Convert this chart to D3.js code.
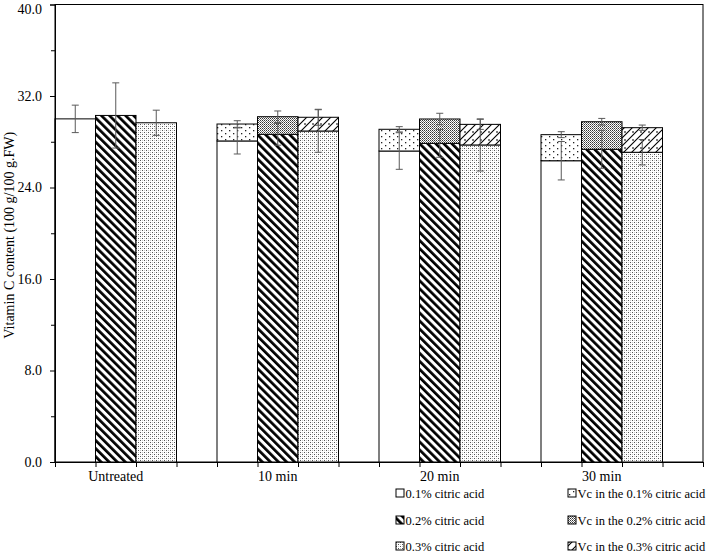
<!DOCTYPE html>
<html><head><meta charset="utf-8">
<script src="https://cdn.jsdelivr.net/npm/d3@7"></script>
<style>
body{margin:0;background:#fff}
svg{display:block}
text{font-family:"Liberation Serif","Times New Roman",serif;fill:#000}
</style>
</head><body>
<svg id="c" width="709" height="552"></svg>
<script>
// ---- data ----
const categories = ["Untreated", "10 min", "20 min", "30 min"];
const baseNames = ["0.1% citric acid", "0.2% citric acid", "0.3% citric acid"];
const vcNames = ["Vc in the 0.1% citric acid", "Vc in the 0.2% citric acid", "Vc in the 0.3% citric acid"];
// base (treated) values
const base01 = [30.0, 28.07, 27.19, 26.34];
const base02 = [30.3, 28.65, 27.86, 27.34];
const base03 = [29.66, 28.94, 27.72, 27.08];
// stacked Vc segments
const vc01 = [0, 1.48, 1.90, 2.28];
const vc02 = [0, 1.54, 2.13, 2.41];
const vc03 = [0, 1.20, 1.80, 2.15];
// error bars
const err01 = [1.2, 1.14, 1.60, 1.68];
const err02 = [2.85, 0.95, 1.22, 1.66];
const err03 = [1.1, 1.86, 2.28, 1.11];
const vcErr01 = [0, 0.29, 0.23, 0.26];
const vcErr02 = [0, 0.50, 0.50, 0.29];
const vcErr03 = [0, 0.70, 0.44, 0.23];
const yMajorTicks = [0, 8, 16, 24, 32, 40];
const yMinorTicks = [4, 12, 20, 28, 36];
const yTitle = "Vitamin C content (100 g/100 g.FW)";

const bases = [base01, base02, base03];
const vcs = [vc01, vc02, vc03];
const errs = [err01, err02, err03];
const vcErrs = [vcErr01, vcErr02, vcErr03];

const svg = d3.select("#c");
const L = 55, R = 703, T = 4.5, B = 462;

// ---- patterns ----
const defs = svg.append("defs");
function pat(id, w, h, draw, transform) {
  const p = defs.append("pattern").attr("id", id).attr("patternUnits", "userSpaceOnUse")
    .attr("width", w).attr("height", h);
  if (transform) p.attr("patternTransform", transform);
  p.append("rect").attr("width", w).attr("height", h).attr("fill", "#fff");
  draw(p);
}
// 0.2% wide downward diagonal
pat("p02", 5.7, 5.7, p => p.append("rect").attr("width", 2.7).attr("height", 5.7).attr("fill", "#000"), "rotate(-45)");
// 0.3% fine dots
pat("p03", 4, 4, p => {
  p.append("rect").attr("x", 0).attr("y", 0).attr("width", 1).attr("height", 1).attr("fill", "#555");
  p.append("rect").attr("x", 2).attr("y", 2).attr("width", 1).attr("height", 1).attr("fill", "#555");
  p.append("rect").attr("x", 2).attr("y", 0).attr("width", 1).attr("height", 1).attr("fill", "#c8c8c8");
  p.append("rect").attr("x", 0).attr("y", 2).attr("width", 1).attr("height", 1).attr("fill", "#c8c8c8");
});
// Vc 0.1% sparse dots
pat("v01", 8, 6, p => {
  p.append("rect").attr("x", 1).attr("y", 1).attr("width", 1.3).attr("height", 1.3).attr("fill", "#222");
  p.append("rect").attr("x", 5).attr("y", 4).attr("width", 1.3).attr("height", 1.3).attr("fill", "#222");
});
// Vc 0.2% dense dots
pat("v02", 2, 2, p => {
  p.append("rect").attr("x", 0).attr("y", 0).attr("width", 1).attr("height", 1).attr("fill", "#333");
  p.append("rect").attr("x", 1).attr("y", 1).attr("width", 1).attr("height", 1).attr("fill", "#777");
});
// Vc 0.3% shingle-like upward diagonal
pat("v03", 8, 8, p => {
  p.append("path").attr("d", "M0,8 L8,0 M-1,1 L1,-1 M7,9 L9,7 M0,4 L2,4").attr("stroke", "#000").attr("stroke-width", 1.1).attr("fill", "none");
});
const baseFills = ["#fff", "url(#p02)", "url(#p03)"];
const vcFills = ["url(#v01)", "url(#v02)", "url(#v03)"];

// ---- scales ----
const xOuter = d3.scaleBand().domain(categories).range([L, R]).padding(0);
const xInner = d3.scaleBand().domain(["s0", "s1", "s2", "gap"]).range([0, xOuter.bandwidth()]).padding(0);
const slotKeys = ["s0", "s1", "s2"];
const xSlots = d3.scaleLinear().domain([0, 16]).range([L, R]);
const y = d3.scaleLinear().domain([0, 40]).range([B, T]);

// frame
svg.append("rect").attr("x", L).attr("y", T).attr("width", R - L).attr("height", B - T)
  .attr("fill", "none").attr("stroke", "#000").attr("stroke-width", 1);

// ---- bars ----
const gBars = svg.append("g");
categories.forEach((c, ci) => {
  bases.forEach((arr, si) => {
    const x0 = xOuter(c) + xInner(slotKeys[si]);
    const w = xInner.bandwidth();
    gBars.append("rect").attr("x", x0).attr("y", y(arr[ci])).attr("width", w)
      .attr("height", y(0) - y(arr[ci])).attr("fill", baseFills[si])
      .attr("stroke", "#000").attr("stroke-width", 1);
    if (vcs[si][ci] > 0) {
      const top = arr[ci] + vcs[si][ci];
      gBars.append("rect").attr("x", x0).attr("y", y(top)).attr("width", w)
        .attr("height", y(arr[ci]) - y(top)).attr("fill", vcFills[si])
        .attr("stroke", "#000").attr("stroke-width", 1);
    }
  });
});

// ---- error bars ----
const gErr = svg.append("g").attr("stroke", "#5a5a5a").attr("stroke-width", 1).attr("fill", "none");
function errBar(cx, v, e) {
  const cap = 3.5;
  gErr.append("path").attr("d",
    `M${cx},${y(v + e)}V${y(v - e)}M${cx - cap},${y(v + e)}H${cx + cap}M${cx - cap},${y(v - e)}H${cx + cap}`);
}
categories.forEach((c, ci) => {
  bases.forEach((arr, si) => {
    const cx = xOuter(c) + xInner(slotKeys[si]) + xInner.bandwidth() / 2;
    errBar(cx, arr[ci], errs[si][ci]);
    if (vcs[si][ci] > 0) errBar(cx, arr[ci] + vcs[si][ci], vcErrs[si][ci]);
  });
});

// ---- axes ----
const yAxis = svg.append("g").attr("transform", `translate(${L},0)`)
  .call(d3.axisLeft(y).tickValues(yMajorTicks).tickFormat(d3.format(".1f")).tickSize(5).tickPadding(8));
yAxis.select(".domain").attr("stroke", "#000");
yAxis.selectAll("text").attr("font-size", 14).attr("font-family", "Liberation Serif")
  .attr("dy", d => d === 40 ? "0.62em" : "0.32em");
svg.append("g").attr("transform", `translate(${L},0)`)
  .call(d3.axisLeft(y).tickValues(yMinorTicks).tickFormat("").tickSize(4))
  .select(".domain").remove();

const xAxis = svg.append("g").attr("transform", `translate(0,${B})`)
  .call(d3.axisBottom(xSlots).tickValues(d3.range(0, 17)).tickFormat("").tickSize(5).tickSizeOuter(0));
xAxis.select(".domain").attr("stroke", "#000");

// category labels
svg.append("g").selectAll("text").data(categories).join("text")
  .attr("x", d => xOuter(d) + xInner("s1") + xInner.bandwidth() / 2)
  .attr("y", 481).attr("text-anchor", "middle").attr("font-size", 14).text(d => d);

// y title
svg.append("text").attr("transform", `translate(14,${(T + B) / 2 + 2}) rotate(-90)`)
  .attr("text-anchor", "middle").attr("font-size", 14).text(yTitle);

// ---- legend ----
const legItems = [
  {name: baseNames[0], fill: baseFills[0], col: 0, row: 0},
  {name: vcNames[0], fill: vcFills[0], col: 1, row: 0},
  {name: baseNames[1], fill: baseFills[1], col: 0, row: 1},
  {name: vcNames[1], fill: vcFills[1], col: 1, row: 1},
  {name: baseNames[2], fill: baseFills[2], col: 0, row: 2},
  {name: vcNames[2], fill: vcFills[2], col: 1, row: 2}
];
const colX = [396, 568], rowY = [493, 520, 546];
const leg = svg.append("g").selectAll("g").data(legItems).join("g")
  .attr("transform", d => `translate(${colX[d.col]},${rowY[d.row]})`);
leg.append("rect").attr("x", 0).attr("y", -4).attr("width", 8).attr("height", 8)
  .attr("fill", d => d.fill).attr("stroke", "#000").attr("stroke-width", 1);
leg.append("text").attr("x", 9.5).attr("y", 4.5).attr("font-size", 12.5).text(d => d.name);
</script>
</body></html>
